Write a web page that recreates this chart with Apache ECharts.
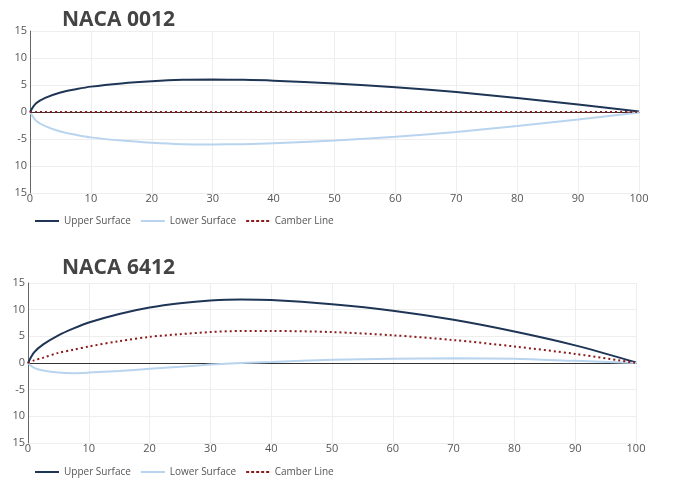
<!DOCTYPE html><html><head><meta charset="utf-8"><script src="https://cdn.jsdelivr.net/npm/echarts@6/dist/echarts.min.js"></script></head><body style="margin:0"><div id="c" style="width:677px;height:491px"></div><script>
const titles=['NACA 0012','NACA 6412'];
const yTickLabels={'15':'15','10':'10','5':'5','0':'0','-5':'-5','-10':'10','-15':'15'};
const xs=[0,1,2.5,5,7.5,10,15,20,25,30,35,40,50,60,70,80,90,100];
const upper0012=[0,1.6,2.6,3.6,4.2,4.7,5.3,5.7,5.95,6.0,5.95,5.8,5.3,4.6,3.7,2.6,1.4,0.1];
const lower0012=[0,-1.6,-2.6,-3.6,-4.2,-4.7,-5.3,-5.7,-5.95,-6.0,-5.95,-5.8,-5.3,-4.6,-3.7,-2.6,-1.4,-0.1];
const camber0012=[0,0,0,0,0,0,0,0,0,0,0,0,0,0,0,0,0,0];
const upper6412=[0,2.0,3.5,5.2,6.5,7.6,9.2,10.4,11.2,11.7,11.9,11.8,11.0,9.8,8.1,5.9,3.3,0.1];
const lower6412=[0,-0.9,-1.4,-1.8,-1.9,-1.8,-1.5,-1.1,-0.7,-0.3,0,0.2,0.6,0.8,0.9,0.8,0.4,0];
const camber6412=[0,0.5,1.0,1.9,2.5,3.1,4.1,4.9,5.4,5.8,6.0,6.0,5.8,5.2,4.3,3.1,1.7,0];
const sets=[[upper0012,lower0012,camber0012],[upper6412,lower6412,camber6412]];
const names=['Upper Surface','Lower Surface','Camber Line'];
const cols=['#1f3556','#b8d4ee','#8b1a1a'];
const grids=[{left:30,width:609,top:31,height:162},{left:28,width:608,top:283,height:160}];
const ch=echarts.init(document.getElementById('c'));
const series=[];
sets.forEach((s,g)=>s.forEach((d,i)=>series.push({name:names[i],type:'line',xAxisIndex:g,yAxisIndex:g,showSymbol:false,smooth:0.3,z:i==2?3:2,
 data:xs.map((x,k)=>[x,d[k]]),lineStyle:{color:cols[i],width:2,type:i==2?[2,3]:'solid'},itemStyle:{color:cols[i]}})));
ch.setOption({animation:false,
 title:titles.map((t,g)=>({text:t,left:57,top:g?253:5,textStyle:{fontFamily:'Open Sans',fontWeight:'bold',fontSize:21,color:'#444'}})),
 legend:[0,1].map(g=>({left:30,top:g?462:211,itemWidth:24,itemHeight:2,icon:'rect',itemGap:10,textStyle:{fontFamily:'Open Sans',fontSize:10,color:'#555'},
  data:names.map((n,i)=>({name:n,icon:i==2?'path://M0,0h3v2h-3zM5,0h3v2h-3zM10,0h3v2h-3zM15,0h3v2h-3zM20,0h3v2h-3z':'rect'})),
  selectedMode:false})),
 grid:grids,
 xAxis:grids.map((_,g)=>({type:'value',gridIndex:g,min:0,max:100,interval:10,axisLine:{onZero:true,lineStyle:{color:'#333',width:1}},axisTick:{show:false},
  splitLine:{lineStyle:{color:'#eee'}},axisLabel:{color:'#555',fontFamily:'Open Sans',fontSize:11,margin:0,verticalAlign:'top',formatter:v=>v},
  position:'bottom'})),
 yAxis:grids.map((_,g)=>({type:'value',gridIndex:g,min:-15,max:15,interval:5,axisLine:{show:true,lineStyle:{color:'#666'}},axisTick:{show:false},
  splitLine:{lineStyle:{color:'#eee'}},axisLabel:{color:'#555',fontFamily:'Open Sans',fontSize:11,margin:3,formatter:v=>yTickLabels[v]}})),
 series});
</script></body></html>
